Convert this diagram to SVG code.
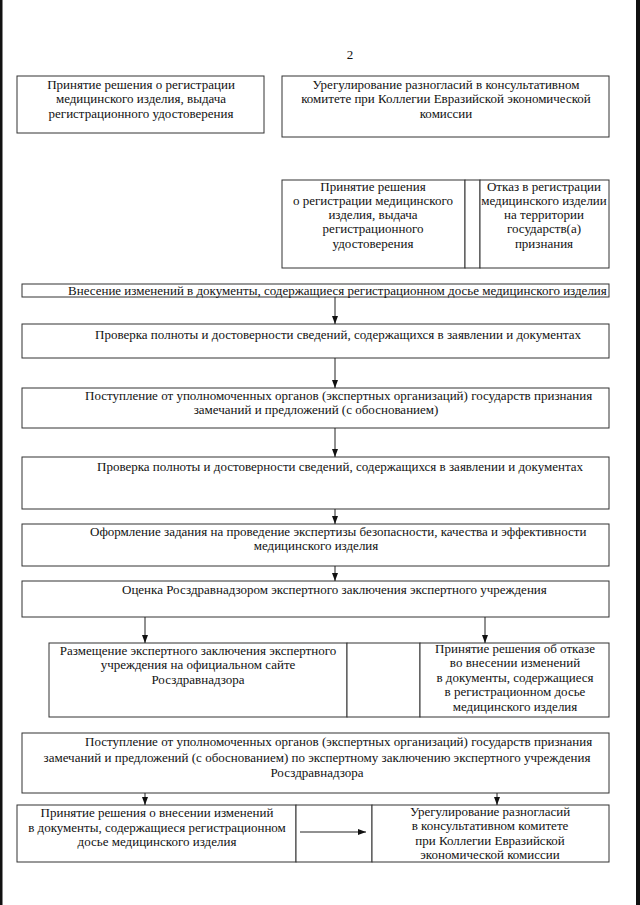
<svg xmlns="http://www.w3.org/2000/svg" width="640" height="905" viewBox="0 0 640 905">
<defs>
<marker id="ah" viewBox="0 0 8 8" refX="8" refY="4" markerWidth="8" markerHeight="8" markerUnits="userSpaceOnUse" orient="auto">
<path d="M0,1 L8,4 L0,7 Z" fill="#111"/>
</marker>
</defs>
<style>
.b{fill:#fff;stroke:#333;stroke-width:1}
.t{font-family:"Liberation Serif","Times New Roman",serif;font-size:13px;fill:#111}
.c{text-anchor:middle}
.l{stroke:#222;stroke-width:1;fill:none}
</style>
<rect x="0" y="0" width="640" height="905" fill="#fff"/>
<rect x="0" y="0" width="2.5" height="905" fill="#111"/>
<rect x="636" y="0" width="4" height="905" fill="#111"/>
<text class="t c" x="350" y="59">2</text>

<g id="n1">
<rect class="b" x="17" y="76" width="247" height="57"/>
<text class="t c" x="141" y="89">Принятие решения о регистрации</text>
<text class="t c" x="141" y="103">медицинского изделия, выдача</text>
<text class="t c" x="141" y="118">регистрационного удостоверения</text>
</g>
<g id="n2">
<rect class="b" x="282" y="76" width="327" height="61"/>
<text class="t c" x="446" y="89">Урегулирование разногласий в консультативном</text>
<text class="t c" x="446" y="103">комитете при Коллегии Евразийской экономической</text>
<text class="t c" x="446" y="118">комиссии</text>
</g>
<g id="n3">
<rect class="b" x="282" y="180" width="183" height="88"/>
<text class="t c" x="373" y="191">Принятие решения</text>
<text class="t c" x="373" y="205">о регистрации медицинского</text>
<text class="t c" x="373" y="219">изделия, выдача</text>
<text class="t c" x="373" y="233">регистрационного</text>
<text class="t c" x="373" y="248">удостоверения</text>
</g>
<g id="n3b">
<rect class="b" x="465" y="180" width="15" height="88"/>
</g>
<g id="n4">
<rect class="b" x="480" y="180" width="129" height="88"/>
<text class="t c" x="544" y="191">Отказ в регистрации</text>
<text class="t c" x="544" y="205">медицинского изделии</text>
<text class="t c" x="544" y="219">на территории</text>
<text class="t c" x="544" y="233">государств(а)</text>
<text class="t c" x="544" y="248">признания</text>
</g>
<g id="n5">
<rect class="b" x="22" y="284" width="587" height="13"/>
<text class="t" x="68" y="295">Внесение изменений в документы, содержащиеся регистрационном досье медицинского изделия</text>
</g>
<g id="n6">
<rect class="b" x="22" y="324" width="587" height="34"/>
<text class="t" x="95" y="339">Проверка полноты и достоверности сведений, содержащихся в заявлении и документах</text>
</g>
<g id="n7">
<rect class="b" x="22" y="388" width="587" height="40"/>
<text class="t" x="85" y="400">Поступление от уполномоченных органов (экспертных организаций) государств признания</text>
<text class="t c" x="316" y="414">замечаний и предложений (с обоснованием)</text>
</g>
<g id="n8">
<rect class="b" x="22" y="457" width="587" height="52"/>
<text class="t" x="97" y="471">Проверка полноты и достоверности сведений, содержащихся в заявлении и документах</text>
</g>
<g id="n9">
<rect class="b" x="22" y="524" width="587" height="42"/>
<text class="t" x="90" y="536">Оформление задания на проведение экспертизы безопасности, качества и эффективности</text>
<text class="t c" x="316" y="550">медицинского изделия</text>
</g>
<g id="n10">
<rect class="b" x="22" y="581" width="587" height="36"/>
<text class="t" x="122" y="594">Оценка Росздравнадзором экспертного заключения экспертного учреждения</text>
</g>
<g id="n11">
<rect class="b" x="49" y="643" width="298" height="74"/>
<text class="t c" x="198" y="655">Размещение экспертного заключения экспертного</text>
<text class="t c" x="198" y="669">учреждения на официальном сайте</text>
<text class="t c" x="198" y="684">Росздравнадзора</text>
</g>
<g id="n11b">
<rect class="b" x="347" y="643" width="73" height="74"/>
</g>
<g id="n12">
<rect class="b" x="420" y="643" width="189" height="74"/>
<text class="t c" x="515" y="653">Принятие решения об отказе</text>
<text class="t c" x="515" y="667">во внесении изменений</text>
<text class="t c" x="515" y="682">в документы, содержащиеся</text>
<text class="t c" x="515" y="696">в регистрационном досье</text>
<text class="t c" x="515" y="711">медицинского изделия</text>
</g>
<g id="n13">
<rect class="b" x="22" y="733" width="587" height="60"/>
<text class="t" x="85" y="746">Поступление от уполномоченных органов (экспертных организаций) государств признания</text>
<text class="t c" x="317" y="762">замечаний и предложений (с обоснованием) по экспертному заключению экспертного учреждения</text>
<text class="t c" x="317" y="777">Росздравнадзора</text>
</g>
<g id="n14">
<rect class="b" x="17" y="805" width="279" height="57"/>
<text class="t c" x="157" y="817">Принятие решения о внесении изменений</text>
<text class="t c" x="157" y="832">в документы, содержащиеся регистрационном</text>
<text class="t c" x="157" y="846">досье медицинского изделия</text>
</g>
<g id="n14b">
<rect class="b" x="296" y="805" width="76" height="57"/>
</g>
<g id="n15">
<rect class="b" x="372" y="805" width="237" height="57"/>
<text class="t c" x="490" y="816">Урегулирование разногласий</text>
<text class="t c" x="490" y="830">в консультативном комитете</text>
<text class="t c" x="490" y="845">при Коллегии Евразийской</text>
<text class="t c" x="490" y="859">экономической комиссии</text>
</g>

<g id="connectors">
<line class="l" x1="335" y1="297" x2="335" y2="324" marker-end="url(#ah)"/>
<line class="l" x1="335" y1="358" x2="335" y2="388" marker-end="url(#ah)"/>
<line class="l" x1="335" y1="428" x2="335" y2="457" marker-end="url(#ah)"/>
<line class="l" x1="335" y1="509" x2="335" y2="524" marker-end="url(#ah)"/>
<line class="l" x1="335" y1="566" x2="335" y2="581" marker-end="url(#ah)"/>
<line class="l" x1="145" y1="617" x2="145" y2="643" marker-end="url(#ah)"/>
<line class="l" x1="485" y1="617" x2="485" y2="643" marker-end="url(#ah)"/>
<line class="l" x1="145" y1="793" x2="145" y2="805" marker-end="url(#ah)"/>
<line class="l" x1="497" y1="793" x2="497" y2="805" marker-end="url(#ah)"/>
<line class="l" x1="300" y1="832" x2="366" y2="832" marker-end="url(#ah)"/>
</g>
</svg>
